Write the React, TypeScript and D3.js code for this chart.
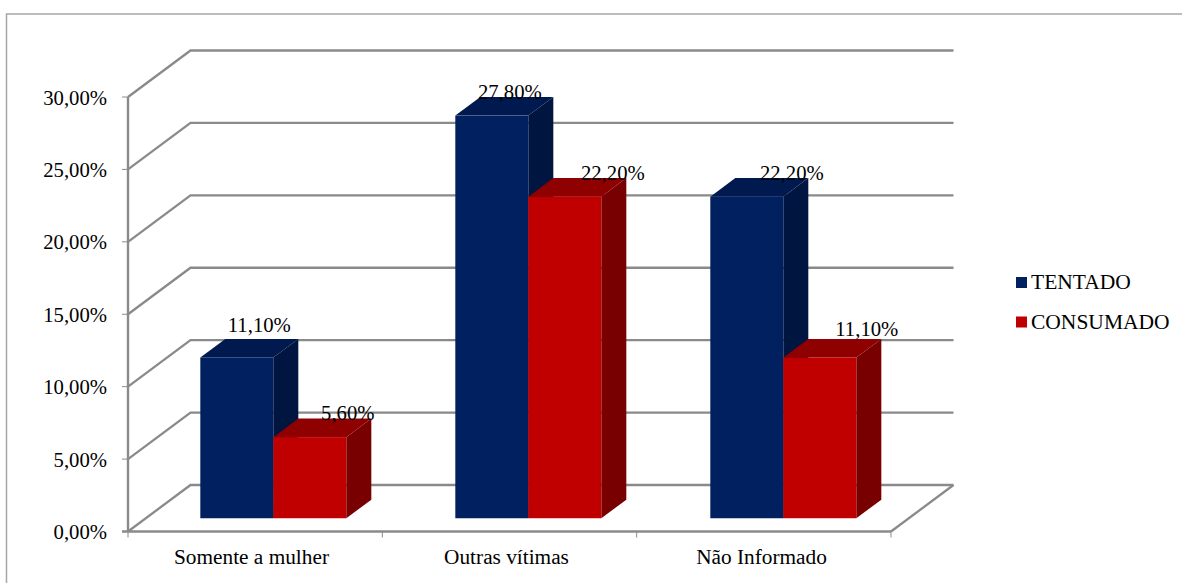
import React from "react";
import * as d3 from "d3";

const categories = ["Somente a mulher", "Outras vítimas", "Não Informado"];
const seriesNames = ["TENTADO", "CONSUMADO"];
const tentado = [11.1, 27.8, 22.2];
const consumado = [5.6, 22.2, 11.1];
const yTicks = [0, 5, 10, 15, 20, 25, 30];
const valueLabels = [["11,10%", "27,80%", "22,20%"], ["5,60%", "22,20%", "11,10%"]];

// Hand-placed label nudges from each bar's centre, per series and category.
const labelNudgeX = [[22.5, 18, 45], [38, 48, 47]];
const labelNudgeY = [[-25, -17, -17], [-17, -17, -21]];

const faceColors = [
  { front: "#002060", side: "#00153f", top: "#001a4f" },
  { front: "#c00000", side: "#780000", top: "#8f0000" },
];

const WIDTH = 1182;
const HEIGHT = 583;
const FONT = "'Liberation Serif', serif";
const FONT_SIZE = 20.7;
const CATEGORY_FONT_SIZE = 21.3;
const LEGEND_FONT_SIZE = 21.5;
const AXIS = "#8a8a8a";

// Oblique projection: depth runs up and to the right of the front plane.
const depthX = 62.5;
const depthY = -46.5;

const fmtTick = (v: number) => d3.format(".2f")(v).replace(".", ",") + "%";

export default function App() {
  const x = d3.scaleBand<string>().domain(categories).range([128, 891]);
  const xBars = d3.scaleBand<string>().domain(categories).range([128, 893]);
  const y = d3.scaleLinear().domain([0, 30]).range([531.5, 97]);

  const barWidth = 73;
  const frontT = 0.285;
  const backT = 0.685;
  const series = [tentado, consumado];

  const path = (pts: [number, number][]) => d3.line()(pts)! + "Z";

  return (
    <svg
      width={WIDTH}
      height={HEIGHT}
      viewBox={`0 0 ${WIDTH} ${HEIGHT}`}
      style={{ position: "absolute", left: 0, top: 0, background: "#fff" }}
      fontFamily={FONT}
      fontSize={FONT_SIZE}
    >
      <path d="M6.5 583V14H1182" fill="none" stroke="#a6a6a6" strokeWidth={1.5} />

      {/* back wall gridlines and their diagonals on the side wall */}
      {yTicks.map((t) => (
        <g key={t} stroke={AXIS} fill="none" strokeWidth={2.3}>
          <path
            d={d3.line()([
              [x.range()[0], y(t)],
              [x.range()[0] + depthX, y(t) + depthY],
              [x.range()[1] + depthX, y(t) + depthY],
            ])!}
          />
          <line x1={122} x2={128} y1={y(t)} y2={y(t)} strokeWidth={1} />
        </g>
      ))}

      {/* front axis lines, floor edge */}
      <g stroke={AXIS} fill="none">
        <line x1={128} x2={128} y1={y(30)} y2={y(0)} strokeWidth={2.4} />
        <line x1={122} x2={x.range()[1]} y1={y(0)} y2={y(0)} strokeWidth={2.4} />
        <line
          x1={x.range()[1]}
          y1={y(0)}
          x2={x.range()[1] + depthX}
          y2={y(0) + depthY}
          strokeWidth={2.3}
        />
        {[...categories.map((c) => x(c)!), x.range()[1]].map((px) => (
          <line key={px} x1={px} x2={px} y1={y(0)} y2={y(0) + 6} strokeWidth={1} />
        ))}
      </g>

      {/* y tick labels */}
      {yTicks.map((t) => (
        <text key={t} x={107} y={y(t) + 7.5} textAnchor="end" fill="#000">
          {fmtTick(t)}
        </text>
      ))}

      {/* category labels */}
      {categories.map((c) => (
        <text
          key={c}
          x={xBars(c)! + xBars.bandwidth() / 2 - 4}
          y={564}
          textAnchor="middle"
          fill="#000"
          fontSize={CATEGORY_FONT_SIZE}
        >
          {c}
        </text>
      ))}

      {/* 3D bars */}
      {categories.map((c, ci) => {
        const cx = xBars(c)! + xBars.bandwidth() / 2 + frontT * depthX;
        const base = y(0) + frontT * depthY;
        const dx = (backT - frontT) * depthX;
        const dy = (backT - frontT) * depthY;
        return (
          <g key={c}>
            {series.map((values, si) => {
              const left = cx + (si - 1) * barWidth;
              const right = left + barWidth;
              const top = y(values[ci]) + frontT * depthY;
              const col = faceColors[si];
              return (
                <g key={si}>
                  <path
                    d={path([[right, top], [right + dx, top + dy], [right + dx, base + dy], [right, base]])}
                    fill={col.side}
                  />
                  <path
                    d={path([[left, top], [left + dx, top + dy], [right + dx, top + dy], [right, top]])}
                    fill={col.top}
                  />
                  <rect x={left} y={top} width={barWidth} height={base - top} fill={col.front} />
                </g>
              );
            })}
          </g>
        );
      })}

      {/* value labels, drawn over the bars */}
      {categories.map((c, ci) =>
        series.map((values, si) => {
          const cx = xBars(c)! + xBars.bandwidth() / 2 + frontT * depthX;
          const left = cx + (si - 1) * barWidth;
          return (
            <text
              key={c + si}
              x={left + barWidth / 2 + labelNudgeX[si][ci]}
              y={y(values[ci]) + frontT * depthY + labelNudgeY[si][ci]}
              textAnchor="middle"
              fill="#000"
            >
              {valueLabels[si][ci]}
            </text>
          );
        })
      )}

      {/* legend */}
      {seriesNames.map((name, i) => (
        <g key={name}>
          <rect x={1016} y={277 + i * 39.5} width={11} height={11} fill={faceColors[i].front} />
          <text x={1031} y={289 + i * 40} fill="#000" fontSize={LEGEND_FONT_SIZE}>
            {name}
          </text>
        </g>
      ))}
    </svg>
  );
}
